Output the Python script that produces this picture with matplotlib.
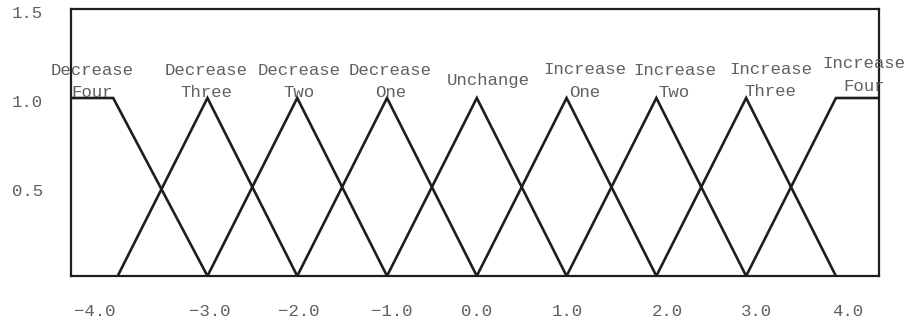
import matplotlib
matplotlib.use("Agg")
import matplotlib.pyplot as plt
from matplotlib.transforms import ScaledTranslation

plt.rcParams["font.family"] = ["Liberation Mono", "DejaVu Sans Mono"]

# membership functions: breakpoints (x) and membership grades (y)
names = ["Decrease\nFour", "Decrease\nThree", "Decrease\nTwo", "Decrease\nOne",
         "Unchange", "Increase\nOne", "Increase\nTwo", "Increase\nThree", "Increase\nFour"]
mf_x = [
    [-4.52, -4.05, -3.0],
    [-4.0, -3.0, -2.0],
    [-3.0, -2.0, -1.0],
    [-2.0, -1.0, 0.0],
    [-1.0, 0.0, 1.0],
    [0.0, 1.0, 2.0],
    [1.0, 2.0, 3.0],
    [2.0, 3.0, 4.0],
    [3.0, 4.0, 4.48],
]
mf_y = [
    [1, 1, 0],
    [0, 1, 0],
    [0, 1, 0],
    [0, 1, 0],
    [0, 1, 0],
    [0, 1, 0],
    [0, 1, 0],
    [0, 1, 0],
    [0, 1, 1],
]
# where each set name is written
label_x = [-4.28, -3.01, -1.98, -0.96, 0.13, 1.20, 2.20, 3.27, 4.31]
label_y = [1.093, 1.093, 1.093, 1.093, 1.096, 1.096, 1.093, 1.10, 1.129]

xtick_pos = [-4.25, -2.98, -1.98, -0.95, 0.0, 1.01, 2.12, 3.11, 4.13]
xtick_labels = ["\u22124.0", "\u22123.0", "\u22122.0", "\u22121.0", "0.0", "1.0", "2.0", "3.0", "4.0"]
ytick_pos = [0.5, 1.0, 1.5]
ytick_labels = ["0.5", "1.0", "1.5"]

fig = plt.figure(figsize=(9.11, 3.24), dpi=100)
ax = fig.add_axes([71 / 911, 48 / 324, 808 / 911, 267 / 324])

for xs, ys in zip(mf_x, mf_y):
    ax.plot(xs, ys, color="#1e1e1e", lw=1.9, solid_joinstyle="miter")

for name, lx, ly in zip(names, label_x, label_y):
    ax.text(lx, ly, name, ha="center", va="center", fontsize=12.5,
            color="#606060", linespacing=1.6)

ax.set_xlim(-4.52, 4.48)
ax.set_ylim(0, 1.5)
ax.set_xticks(xtick_pos, xtick_labels)
ax.set_yticks(ytick_pos, ytick_labels)
ax.tick_params(axis="both", length=0, labelsize=12.5, labelcolor="#606060")
ax.tick_params(axis="x", pad=20)
ax.tick_params(axis="y", pad=20)

# y labels sit a touch below their gridline value
shift = ScaledTranslation(0, -2.5 / 72, fig.dpi_scale_trans)
for lab in ax.get_yticklabels():
    lab.set_transform(lab.get_transform() + shift)

for s in ax.spines.values():
    s.set_linewidth(1.6)
    s.set_color("#1e1e1e")

fig.savefig("out.png", dpi=100)
